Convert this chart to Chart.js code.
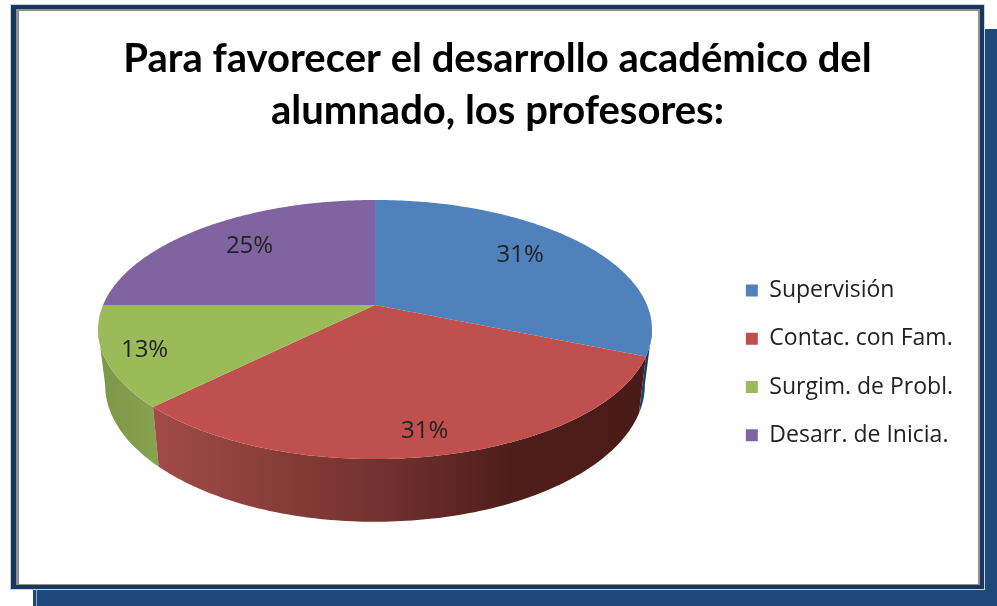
<!DOCTYPE html>
<html lang="es">
<head>
<meta charset="utf-8">
<title>Para favorecer el desarrollo académico del alumnado</title>
<script src="https://cdn.jsdelivr.net/npm/chart.js@4"></script>
<style>
html,body{margin:0;padding:0;background:#fff;width:997px;height:606px;overflow:hidden}
.box{position:absolute;box-sizing:border-box}
#shadow{left:33px;top:29px;width:964px;height:577px;background:#1f497d}
#shadowLine{left:36px;top:585px;width:1px;height:21px;background:#8fa6c6}
#frame{left:11px;top:5px;width:973px;height:584px;background:#17375e;outline:1px solid #c9d2df}
#panel{left:16px;top:9px;width:964px;height:576px;background:#fff;border-style:solid;border-color:#8f8f8f;border-width:2px 2px 1px 3px}
#c{position:absolute;left:0;top:0}
</style>
</head>
<body>
<div class="box" id="shadow"></div>
<div class="box" id="shadowLine"></div>
<div class="box" id="frame"></div>
<div class="box" id="panel"></div>
<canvas id="c" width="997" height="606"></canvas>
<script>
const titleLines = ['Para favorecer el desarrollo académico del', 'alumnado, los profesores:'];
const categories = ['Supervisión', 'Contac. con Fam.', 'Surgim. de Probl.', 'Desarr. de Inicia.'];
const values = [5, 5, 2, 4];
const topColors = ['#4f81bd', '#c0504d', '#9bbb59', '#8064a2'];

// Perspective of the disc: a circle is mapped so its centre sits above the ellipse centre.
const TOP_DISC = {cx: 375, cy: 305, rx: 272, ry: 124.9, tilt: -0.189};
const LOW_DISC = {cx: 375, cy: 359, rx: 265, ry: 132, tilt: -0.189};
// Silhouette of the body: the walls are visible between these two angles
const WALL_FROM = Math.asin(0.189);
const WALL_TO = Math.PI - WALL_FROM;
// Draw order of the walls, back to front
const wallOrder = [0, 2, 1];
// Percent label placement: angle nudge (degrees) and fraction of the radius
const labelNudge = [-3.6, 0.9, 0, 1];
const labelRadius = [0.727, 0.855, 0.86, 0.73];

function project(d, a, r) {
  const u = r * Math.cos(a), v = r * Math.sin(a), w = 1 + d.tilt * v;
  return {x: d.cx + d.rx * u / w, y: d.cy + d.ry * v / w};
}
function trace(ctx, d, a0, a1, first) {
  const n = Math.max(2, Math.ceil(Math.abs(a1 - a0) * 60));
  for (let i = 0; i <= n; i++) {
    const p = project(d, a0 + (a1 - a0) * i / n, 1);
    if (i === 0 && first) ctx.moveTo(p.x, p.y); else ctx.lineTo(p.x, p.y);
  }
}
function wallFill(ctx, i) {
  if (i === 1) {
    const g = ctx.createLinearGradient(153, 0, 646, 0);
    g.addColorStop(0, '#a24b47');
    g.addColorStop(0.5, '#6e2f2c');
    g.addColorStop(0.72, '#4f1e1b');
    g.addColorStop(1, '#4a1b19');
    return g;
  }
  if (i === 2) {
    const g = ctx.createLinearGradient(100, 0, 160, 0);
    g.addColorStop(0, '#7d974a');
    g.addColorStop(1, '#88a350');
    return g;
  }
  return '#1d3f66';
}

const pie3d = {
  id: 'pie3d',
  beforeDatasetDraw(chart, args) {
    const ctx = chart.ctx, arcs = args.meta.data;
    ctx.save();
    wallOrder.forEach(i => {
      const a0 = Math.max(arcs[i].startAngle, WALL_FROM);
      const a1 = Math.min(arcs[i].endAngle, WALL_TO);
      if (a1 <= a0) return;
      ctx.beginPath();
      trace(ctx, TOP_DISC, a0, a1, true);
      trace(ctx, LOW_DISC, a1, a0, false);
      ctx.closePath();
      ctx.fillStyle = wallFill(ctx, i);
      ctx.fill();
    });
    arcs.forEach((arc, i) => {
      ctx.beginPath();
      ctx.moveTo(TOP_DISC.cx, TOP_DISC.cy);
      trace(ctx, TOP_DISC, arc.startAngle, arc.endAngle, false);
      ctx.closePath();
      ctx.fillStyle = topColors[i];
      ctx.fill();
    });
    ctx.restore();
    return false;
  },
  afterDatasetsDraw(chart) {
    const ctx = chart.ctx, arcs = chart.getDatasetMeta(0).data;
    const total = values.reduce((s, v) => s + v, 0);
    ctx.save();
    ctx.font = '24px "Open Sans"';
    ctx.fillStyle = '#222';
    ctx.textAlign = 'center';
    ctx.textBaseline = 'middle';
    arcs.forEach((arc, i) => {
      const mid = (arc.startAngle + arc.endAngle) / 2 + labelNudge[i] * Math.PI / 180;
      const p = project(TOP_DISC, mid, labelRadius[i]);
      ctx.fillText(Math.round(values[i] / total * 100) + '%', p.x, p.y + 1);
    });
    ctx.restore();
  }
};

new Chart(document.getElementById('c'), {
  type: 'pie',
  plugins: [pie3d],
  data: {
    labels: categories,
    datasets: [{data: values, backgroundColor: topColors, borderWidth: 0}]
  },
  options: {
    responsive: false,
    animation: false,
    layout: {padding: {top: 0, right: 34, bottom: 134, left: 32}},
    plugins: {
      tooltip: {enabled: false},
      title: {
        display: true,
        text: titleLines,
        color: '#000',
        padding: {top: 33, bottom: 8},
        font: {family: 'Lato', weight: '700', size: 40, lineHeight: 52 / 40}
      },
      legend: {
        position: 'right',
        align: 'end',
        labels: {
          color: '#222',
          boxWidth: 12,
          boxHeight: 12,
          padding: 25.25,
          font: {family: '"Open Sans"', size: 23}
        }
      }
    }
  }
});
</script>
</body>
</html>
